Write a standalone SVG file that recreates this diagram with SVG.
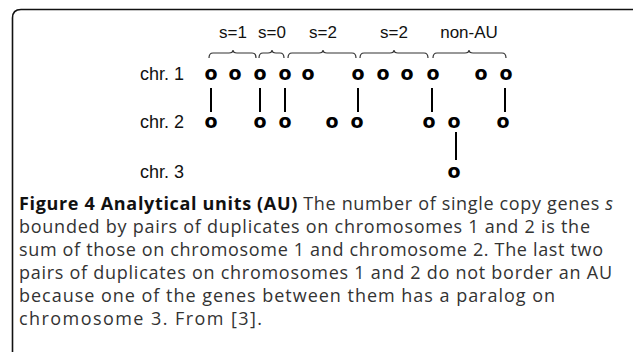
<svg xmlns="http://www.w3.org/2000/svg" width="633" height="352" viewBox="0 0 633 352">
<style>
.lbl{font-family:"Liberation Sans",Arial,sans-serif;font-size:17px;fill:#111}
.chr{font-size:18px}
.g{font-family:"DejaVu Sans",sans-serif;font-size:19px;font-weight:bold;fill:#000;text-anchor:middle}
.br{fill:none;stroke:#333;stroke-width:1.2}
.ln{stroke:#000;stroke-width:2}
.cap{font-family:"Open Sans","Noto Sans",sans-serif;font-size:18px;fill:#333}
.capb{font-weight:bold;fill:#111}
</style>
<rect width="633" height="352" fill="#fff"/>
<path d="M12.5,352 V18 Q12.5,9.5 21,9.5 H633" fill="none" stroke="#111" stroke-width="1.6"/>
<g id="brace-labels" class="lbl" text-anchor="middle">
<text x="233" y="38">s=1</text>
<text x="272" y="38">s=0</text>
<text x="323" y="38">s=2</text>
<text x="394" y="38">s=2</text>
<text x="469" y="38">non-AU</text>
</g>
<g id="braces">
<path class="br" d="M209,58 Q209,53 213,53 H229 Q233,53 233,50 Q233,53 237,53 H252 Q256,53 256,58"/>
<path class="br" d="M259,58 Q259,53 263,53 H268 Q272,53 272,50 Q272,53 276,53 H280 Q284,53 284,58"/>
<path class="br" d="M288,58 Q288,53 292,53 H319 Q323,53 323,50 Q323,53 327,53 H352 Q356,53 356,58"/>
<path class="br" d="M360,58 Q360,53 364,53 H390 Q394,53 394,50 Q394,53 398,53 H424 Q428,53 428,58"/>
<path class="br" d="M433,58 Q433,53 437,53 H465 Q469,53 469,50 Q469,53 473,53 H502 Q506,53 506,58"/>
</g>
<g id="chr-labels" class="lbl chr" text-anchor="end">
<text x="184" y="80">chr. 1</text>
<text x="184" y="128">chr. 2</text>
<text x="184" y="178">chr. 3</text>
</g>
<g id="connectors">
<line class="ln" x1="211" y1="88" x2="211" y2="112"/>
<line class="ln" x1="260" y1="88" x2="260" y2="112"/>
<line class="ln" x1="285" y1="88" x2="285" y2="112"/>
<line class="ln" x1="358" y1="88" x2="358" y2="112"/>
<line class="ln" x1="432" y1="88" x2="432" y2="112"/>
<line class="ln" x1="505" y1="88" x2="505" y2="112"/>
<line class="ln" x1="456" y1="132" x2="456" y2="160"/>
</g>
<g id="chr1-genes">
<g id="c1g1"><text class="g" x="211" y="80">o</text></g>
<g id="c1g2"><text class="g" x="235" y="80">o</text></g>
<g id="c1g3"><text class="g" x="260" y="80">o</text></g>
<g id="c1g4"><text class="g" x="285" y="80">o</text></g>
<g id="c1g5"><text class="g" x="308" y="80">o</text></g>
<g id="c1g6"><text class="g" x="358" y="80">o</text></g>
<g id="c1g7"><text class="g" x="383" y="80">o</text></g>
<g id="c1g8"><text class="g" x="407" y="80">o</text></g>
<g id="c1g9"><text class="g" x="433" y="80">o</text></g>
<g id="c1g10"><text class="g" x="481" y="80">o</text></g>
<g id="c1g11"><text class="g" x="506" y="80">o</text></g>
</g>
<g id="chr2-genes">
<g id="c2g1"><text class="g" x="211" y="128">o</text></g>
<g id="c2g2"><text class="g" x="260" y="128">o</text></g>
<g id="c2g3"><text class="g" x="285" y="128">o</text></g>
<g id="c2g4"><text class="g" x="332" y="128">o</text></g>
<g id="c2g5"><text class="g" x="357" y="128">o</text></g>
<g id="c2g6"><text class="g" x="429" y="128">o</text></g>
<g id="c2g7"><text class="g" x="454" y="128">o</text></g>
<g id="c2g8"><text class="g" x="503" y="128">o</text></g>
</g>
<g id="chr3-genes">
<g id="c3g1"><text class="g" x="454" y="178">o</text></g>
</g>
<g id="caption" class="cap">
<text x="19" y="210" textLength="594" lengthAdjust="spacing"><tspan class="capb">Figure 4 Analytical units (AU)</tspan> The number of single copy genes <tspan font-style="italic">s</tspan></text>
<text x="19" y="233" textLength="571" lengthAdjust="spacing">bounded by pairs of duplicates on chromosomes 1 and 2 is the</text>
<text x="19" y="256" textLength="584" lengthAdjust="spacing">sum of those on chromosome 1 and chromosome 2. The last two</text>
<text x="19" y="279" textLength="593" lengthAdjust="spacing">pairs of duplicates on chromosomes 1 and 2 do not border an AU</text>
<text x="19" y="302" textLength="536" lengthAdjust="spacing">because one of the genes between them has a paralog on</text>
<text x="19" y="325" textLength="243" lengthAdjust="spacing">chromosome 3. From [3].</text>
</g>
</svg>
